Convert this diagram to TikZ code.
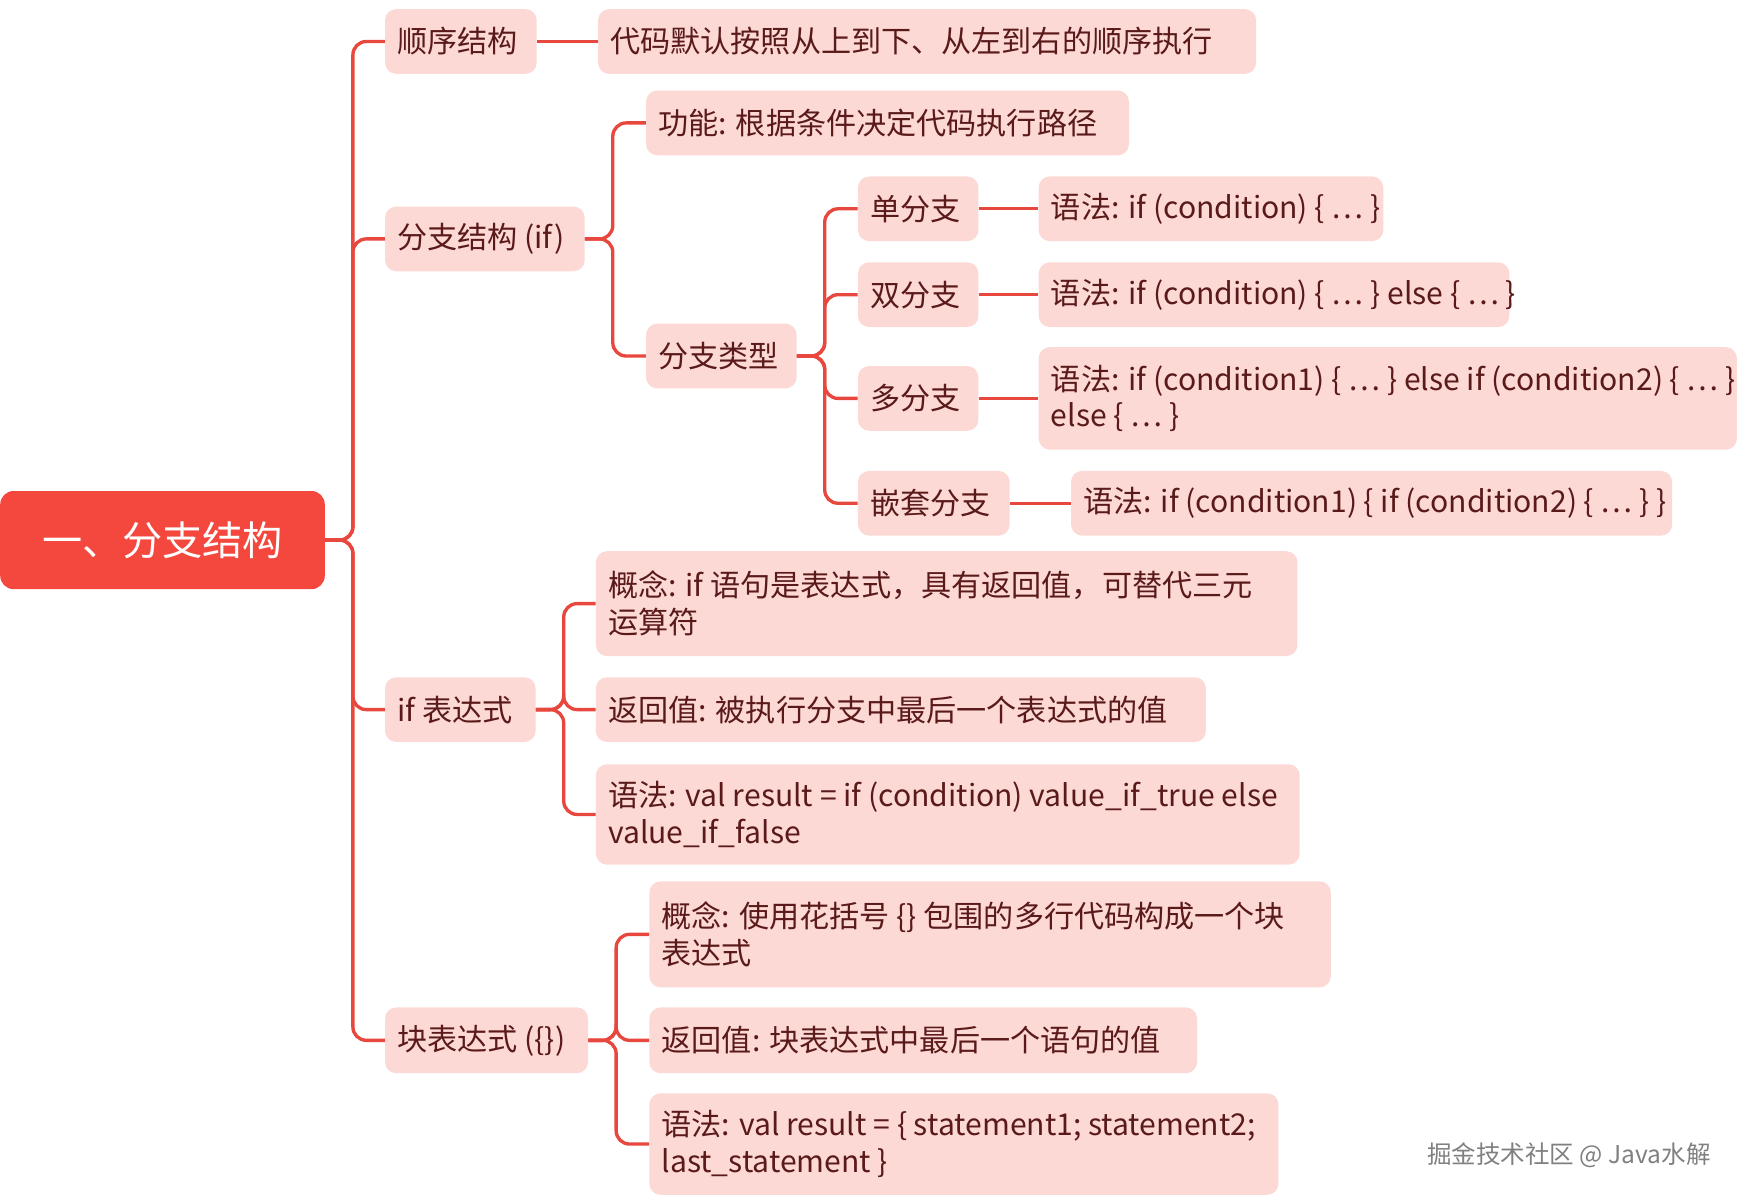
\documentclass[tikz,border=0pt]{standalone}
\usepackage{fontspec}
\setmainfont{Noto Sans CJK SC}
\definecolor{boxf}{HTML}{FDD9D6}
\definecolor{txt}{HTML}{5A1A1A}
\definecolor{ln}{HTML}{E8473E}
\definecolor{rootf}{HTML}{F4483E}
\tikzset{
  box/.style={rectangle,rounded corners=10pt,fill=boxf,anchor=north west,inner sep=0pt},
  lbl/.style={text=txt,anchor=west,inner sep=0pt,align=left,font=\fontsize{27}{33}\selectfont},
  conn/.style={draw=ln,line width=3pt,rounded corners=12pt}
}
\newcommand{\bx}[6]{\node[box,minimum width=#4pt,minimum height=#5pt] (#1) at (#2pt,-#3pt) {};
\node[lbl] (#1t) at ([xshift=11pt]#1.west) {#6};}
\begin{document}
\begin{tikzpicture}[x=1pt,y=1pt]
\useasboundingbox (0,0) rectangle (1560,-1071);
\node[rectangle,rounded corners=12pt,fill=rootf,text=white,anchor=north west,minimum width=291pt,minimum height=88pt,font=\fontsize{36}{40}\selectfont] (root) at (0,-440) {一、分支结构};
\bx{a}{345}{8}{136}{58}{顺序结构}
\bx{b}{345}{185}{179}{58}{分支结构 (if)}
\bx{c}{345}{607}{135}{58}{if 表达式}
\bx{d}{345}{903}{182}{59}{块表达式 (\{\})}
\bx{a1}{536}{8}{590}{58}{代码默认按照从上到下、从左到右的顺序执行}
\bx{b1}{579}{81}{433}{58}{功能: 根据条件决定代码执行路径}
\bx{b2}{579}{290}{135}{58}{分支类型}
\bx{t1}{769}{158}{108}{58}{单分支}
\bx{t2}{769}{235}{108}{58}{双分支}
\bx{t3}{769}{328}{108}{58}{多分支}
\bx{t4}{769}{422}{136}{58}{嵌套分支}
\bx{s1}{931}{158}{309}{58}{语法: if (condition) \{ … \}}
\bx{s2}{931}{235}{422}{58}{语法: if (condition) \{ … \} else \{ … \}}
\bx{s3}{931}{311}{626}{92}{语法: if (condition1) \{ … \} else if (condition2) \{ … \}\\else \{ … \}}
\bx{s4}{960}{422}{539}{58}{语法: if (condition1) \{ if (condition2) \{ … \} \}}
\bx{c1}{534}{494}{629}{94}{概念: if 语句是表达式，具有返回值，可替代三元\\运算符}
\bx{c2}{534}{607}{547}{58}{返回值: 被执行分支中最后一个表达式的值}
\bx{c3}{534}{685}{631}{90}{语法: val result = if (condition) value\_if\_true else\\value\_if\_false}
\bx{d1}{582}{790}{611}{95}{概念: 使用花括号 \{\} 包围的多行代码构成一个块\\表达式}
\bx{d2}{582}{903}{491}{59}{返回值: 块表达式中最后一个语句的值}
\bx{d3}{582}{980}{564}{91}{语法: val result = \{ statement1; statement2;\\last\_statement \}}
\node[anchor=west,text=gray,font=\fontsize{22}{26}\selectfont] (wm) at (1276,-1036) {掘金技术社区 @ Java水解};
\foreach \n in {a,b,c,d} \draw[conn] (root.east) -- ++(25,0) |- (\n.west);
\foreach \n in {b1,b2} \draw[conn] (b.east) -- ++(25,0) |- (\n.west);
\foreach \n in {t1,t2,t3,t4} \draw[conn] (b2.east) -- ++(25,0) |- (\n.west);
\foreach \n in {c1,c2,c3} \draw[conn] (c.east) -- ++(25,0) |- (\n.west);
\foreach \n in {d1,d2,d3} \draw[conn] (d.east) -- ++(25,0) |- (\n.west);
\draw[conn] (a.east) -- (a1.west);
\draw[conn] (t1.east) -- (s1.west);
\draw[conn] (t2.east) -- (s2.west);
\draw[conn] (t3.east) -- (s3.west);
\draw[conn] (t4.east) -- (s4.west);
\end{tikzpicture}
\end{document}
